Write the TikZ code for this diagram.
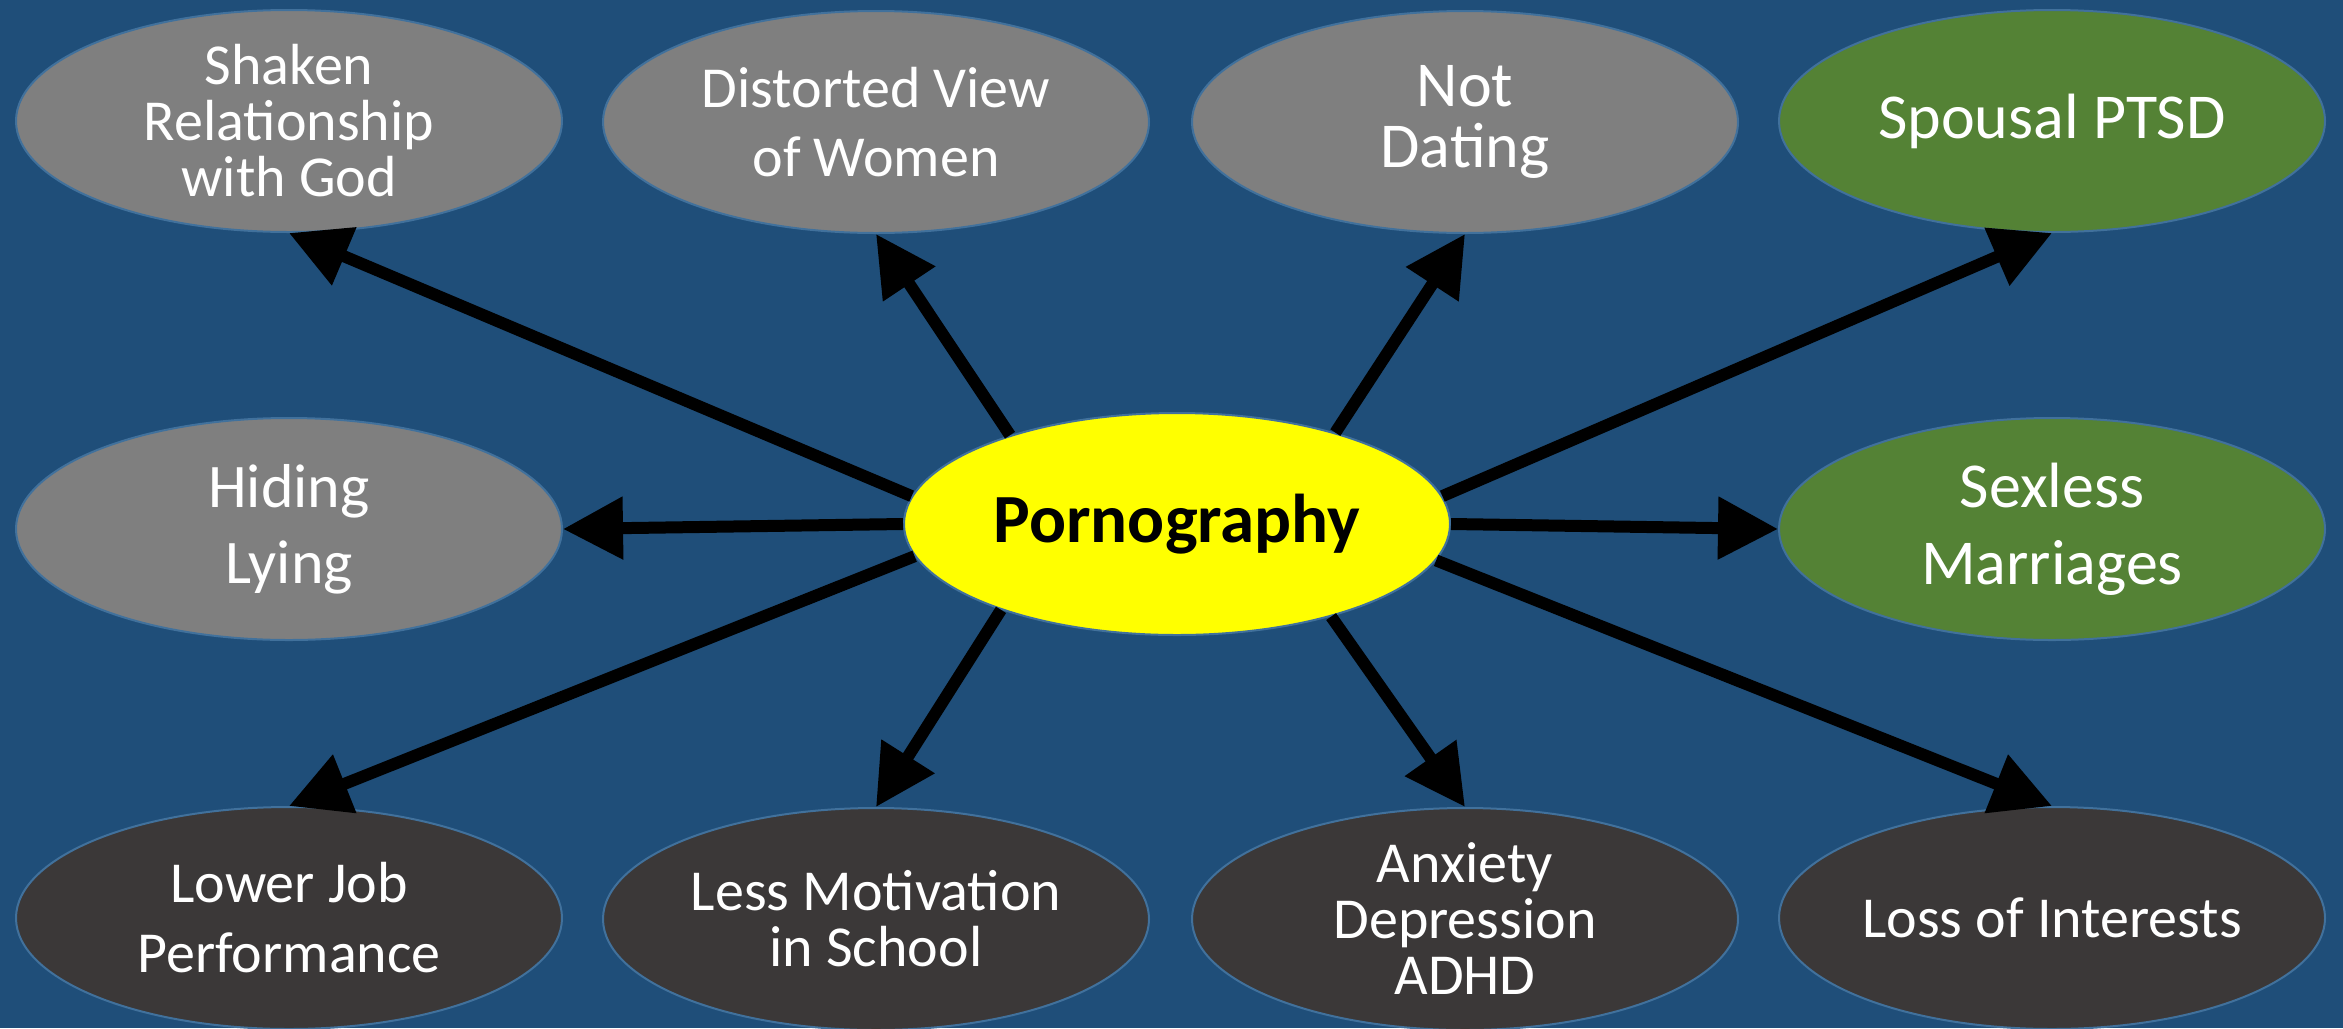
\documentclass[tikz,border=0pt]{standalone}
\usepackage{fontspec}
\setmainfont{Carlito}
\usetikzlibrary{arrows.meta,shapes.geometric}
\definecolor{bgblue}{HTML}{1F4E79}
\definecolor{edgeblue}{HTML}{41719C}
\definecolor{grayfill}{HTML}{7F7F7F}
\definecolor{greenfill}{HTML}{548235}
\definecolor{darkfill}{HTML}{3B3838}
\definecolor{coreyellow}{HTML}{FFFF00}
\tikzset{
  bubble/.style={ellipse, draw=edgeblue, line width=2bp, minimum width=546bp, minimum height=222bp,
    inner xsep=-10bp, inner ysep=-45bp, align=center, text=white},
  graybubble/.style={bubble, fill=grayfill},
  greenbubble/.style={bubble, fill=greenfill},
  darkbubble/.style={bubble, fill=darkfill},
  corebubble/.style={bubble, fill=coreyellow, text=black, font=\fontsize{69bp}{80bp}\selectfont\bfseries},
  fs/.style 2 args={font=\fontsize{#1bp}{#2bp}\selectfont},
  arr/.style={draw=black, line width=12bp, -{Triangle[length=60bp, width=60bp]}}
}
\begin{document}
\begin{tikzpicture}[x=1bp, y=-1bp]
\fill[bgblue] (0,0) rectangle (2343,1028);
\useasboundingbox (0,0) rectangle (2343,1028);

\node[graybubble, fs={58}{56}] (shaken) at (289,121) {Shaken\\Relationship\\with God};
\node[graybubble, fs={58}{69}] (distorted) at (876,122) {Distorted View\\of Women};
\node[graybubble, fs={64}{61}] (dating) at (1465,122) {Not\\Dating};
\node[greenbubble, fs={64}{77}] (ptsd) at (2052,121) {Spousal PTSD};
\node[graybubble, fs={62}{76}] (hiding) at (289,529) {Hiding\\Lying};
\node[greenbubble, fs={64}{77}] (sexless) at (2052,529) {Sexless\\Marriages};
\node[darkbubble, fs={58}{70}] (job) at (289,918) {Lower Job\\Performance};
\node[darkbubble, fs={58}{56}] (school) at (876,919) {Less Motivation\\in School};
\node[darkbubble, fs={58}{56}] (anxiety) at (1465,919) {Anxiety\\Depression\\ADHD};
\node[darkbubble, fs={58}{70}] (loss) at (2052,918) {Loss of Interests};
\node[corebubble] (porn) at (1177,524) {Pornography};

\draw[arr] (porn.174) -- (shaken.south);
\draw[arr] (porn.152) -- (distorted.south);
\draw[arr] (porn.30) -- (dating.south);
\draw[arr] (porn.6) -- (ptsd.south);
\draw[arr] (porn.0) -- (sexless.west);
\draw[arr] (porn.180) -- (hiding.east);
\draw[arr] (porn.187) -- (job.north);
\draw[arr] (porn.206) -- (school.north);
\draw[arr] (porn.329) -- (anxiety.north);
\draw[arr] (porn.352) -- (loss.north);
\end{tikzpicture}
\end{document}
